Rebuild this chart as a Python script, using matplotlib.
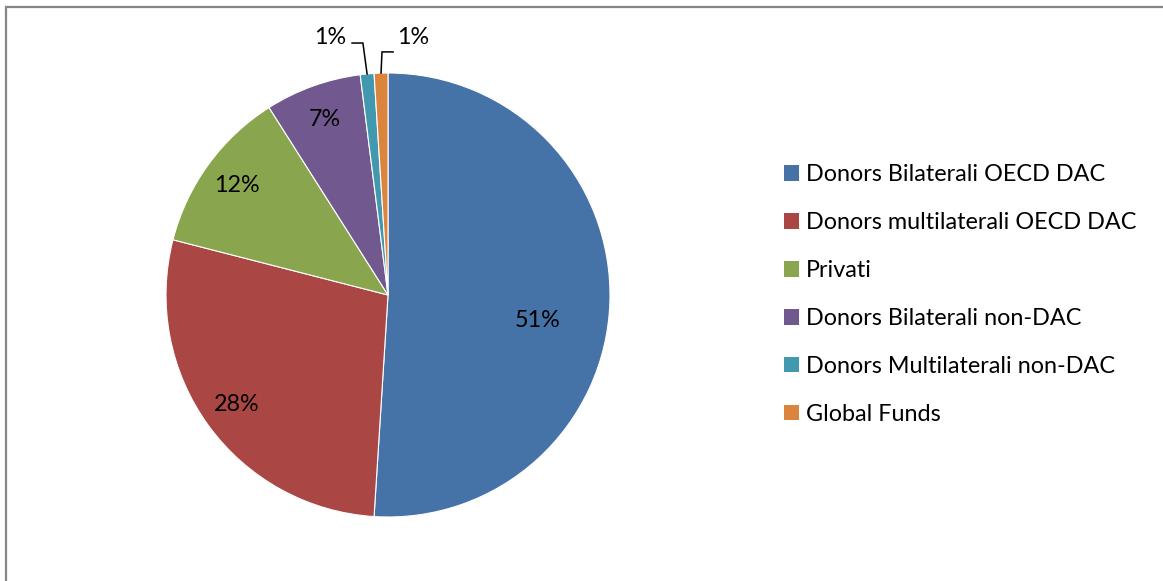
import numpy as np
import matplotlib
matplotlib.use("Agg")
import matplotlib.pyplot as plt
from matplotlib.patches import Patch, Rectangle

plt.rcParams['font.family'] = ['Lato', 'DejaVu Sans']

categories = ['Donors Bilaterali OECD DAC', 'Donors multilaterali OECD DAC', 'Privati',
              'Donors Bilaterali non-DAC', 'Donors Multilaterali non-DAC', 'Global Funds']
shares = [51, 28, 12, 7, 1, 1]
colors = ['#4572A7', '#AA4643', '#89A54E', '#71588F', '#4198AF', '#DB843D']

W, H = 1163, 581
fig = plt.figure(figsize=(W / 100, H / 100), dpi=100)

# outer chart border (only top and left visible)
fig.patches.append(Rectangle((5.5 / W, -0.1), 1.2, 1.1 - 6.5 / H, transform=fig.transFigure,
                             fill=False, edgecolor='#868686', linewidth=1.6))

R = 222
lim = 1.3
cx, cy = 388, 295
side = 2 * lim * R
ax = fig.add_axes([(cx - side / 2) / W, (H - cy - side / 2) / H, side / W, side / H])

wedges, _ = ax.pie(shares, colors=colors, startangle=90, counterclock=False,
                   wedgeprops=dict(edgecolor='white', linewidth=0.8))
ax.set_xlim(-lim, lim)
ax.set_ylim(-lim, lim)
ax.set_aspect('equal')
ax.axis('off')

fs = 16.8
for i, (w, v) in enumerate(zip(wedges, shares)):
    mid = np.deg2rad((w.theta1 + w.theta2) / 2)
    ux, uy = np.cos(mid), np.sin(mid)
    if v >= 5:
        if i == 0:
            r, a = 0.685, np.deg2rad(-9.5)
            ux, uy = np.cos(a), np.sin(a)
        else:
            r = 0.84
        ax.text(r * ux, r * uy, f'{v}%', ha='center', va='center', fontsize=fs, color='black')
    else:
        # small slices: label above the pie with an elbow leader line
        if i == 4:
            tx, elbow, knee_y = -0.26, -0.113, 1.135
            line_end = -0.162
        else:
            tx, elbow, knee_y = 0.113, -0.027, 1.095
            line_end = 0.023
        ax.plot([ux, elbow, line_end], [uy, knee_y, knee_y], color='black', lw=1.1,
                solid_joinstyle='miter')
        ax.text(tx, 1.162, f'{v}%', ha='center', va='center', fontsize=fs, color='black')

handles = [Patch(facecolor=c, edgecolor='none') for c in colors]
fig.legend(handles, categories, loc='center left', bbox_to_anchor=(784 / W, (H - 294.5) / H),
           frameon=False, fontsize=fs, handlelength=0.65, handleheight=0.65,
           handletextpad=0.3, labelspacing=1.15, borderpad=0, borderaxespad=0)

fig.savefig('out.png', dpi=100, facecolor='white')
